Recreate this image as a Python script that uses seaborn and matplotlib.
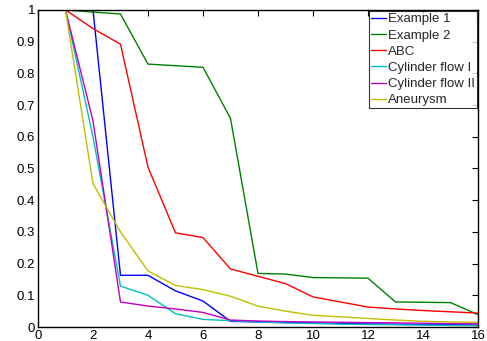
import matplotlib
matplotlib.use("Agg")
import matplotlib.pyplot as plt
import seaborn as sns
import pandas as pd

steps = list(range(1, 17))
example_1 = [1, 1, 0.163, 0.163, 0.114, 0.082, 0.018, 0.016, 0.014, 0.013, 0.011, 0.010, 0.009, 0.008, 0.007, 0.006]
example_2 = [1, 0.993, 0.987, 0.829, 0.824, 0.819, 0.658, 0.169, 0.167, 0.156, 0.155, 0.154, 0.079, 0.078, 0.077, 0.039]
abc = [1, 0.941, 0.892, 0.504, 0.297, 0.282, 0.183, 0.160, 0.137, 0.095, 0.079, 0.063, 0.057, 0.052, 0.048, 0.044]
cylinder_1 = [1, 0.60, 0.129, 0.100, 0.042, 0.024, 0.020, 0.016, 0.013, 0.011, 0.009, 0.008, 0.007, 0.006, 0.005, 0.004]
cylinder_2 = [1, 0.65, 0.079, 0.066, 0.057, 0.046, 0.022, 0.019, 0.017, 0.016, 0.015, 0.014, 0.013, 0.012, 0.011, 0.010]
aneurysm = [1, 0.452, 0.300, 0.177, 0.131, 0.118, 0.097, 0.066, 0.050, 0.037, 0.032, 0.027, 0.022, 0.018, 0.016, 0.015]

names = ["Example 1", "Example 2", "ABC", "Cylinder flow I", "Cylinder flow II", "Aneurysm"]
series = [example_1, example_2, abc, cylinder_1, cylinder_2, aneurysm]
colors = ["#0000ff", "#008000", "#ff0000", "#00bfbf", "#bf00bf", "#bfbf00"]

df = pd.concat(
    [pd.DataFrame({"x": steps, "y": vals, "case": name}) for name, vals in zip(names, series)],
    ignore_index=True,
)

sns.set_style("white")
plt.rcParams["font.family"] = ["Liberation Sans", "DejaVu Sans"]

fig = plt.figure(figsize=(4.87, 3.41), dpi=100)
ax = fig.add_axes([0.078, 0.041, 0.9035, 0.930])
sns.lineplot(data=df, x="x", y="y", hue="case", hue_order=names,
             palette=dict(zip(names, colors)), linewidth=1.0, ax=ax)

ax.set_xlim(0, 16)
ax.set_ylim(0, 1)
ax.set_xticks(range(0, 17, 2))
ax.set_yticks([i / 10 for i in range(11)])
ax.set_yticklabels(["0", "0.1", "0.2", "0.3", "0.4", "0.5", "0.6", "0.7", "0.8", "0.9", "1"])
ax.set_xlabel("")
ax.set_ylabel("")
ax.tick_params(direction="in", top=True, right=True, length=4, width=0.8,
               labelsize=9.5, pad=2, colors="black")
for s in ax.spines.values():
    s.set_color("black")
    s.set_linewidth(1.0)

leg = ax.legend(loc="upper right", fontsize=9.5, frameon=True, fancybox=False,
                handlelength=1.15, handletextpad=0.1, labelspacing=0.3,
                borderpad=0.15, borderaxespad=0.1)
leg.get_frame().set_edgecolor("black")
leg.get_frame().set_linewidth(0.8)

fig.savefig("out.png", dpi=100)
